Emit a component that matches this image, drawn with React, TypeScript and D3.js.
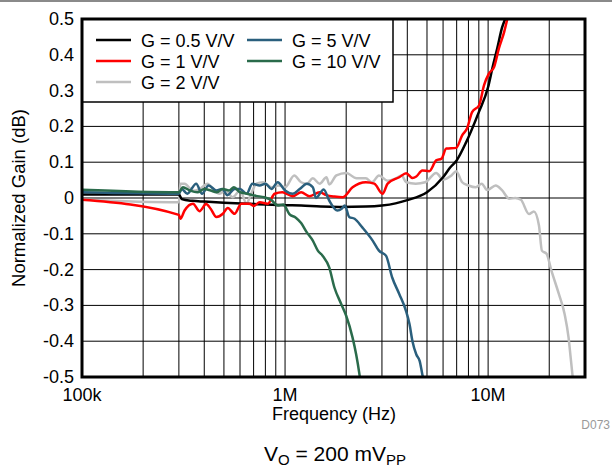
import React, { useRef, useEffect } from "react";
import * as d3 from "d3";

// 주파수 (MHz) / 정규화 이득 (dB)
const g05Freq = [0.1, 0.3, 0.31, 0.35, 0.4, 0.5, 0.65, 0.8, 1.0, 1.2, 1.5, 1.85, 2.5, 3.0, 3.5, 4.0, 5.0, 6.0, 6.5, 7.0, 7.8, 9.0, 10.0, 10.5, 11.1, 11.7, 12.3, 13];
const g05Gain = [0.01, 0.01, -0.003, -0.008, -0.01, -0.013, -0.016, -0.018, -0.02, -0.021, -0.024, -0.025, -0.024, -0.021, -0.015, -0.006, 0.016, 0.058, 0.085, 0.105, 0.156, 0.24, 0.31, 0.363, 0.419, 0.475, 0.51, 0.56];

const g1Freq = [0.1, 0.3, 0.305, 0.32, 0.352, 0.379, 0.409, 0.43, 0.459, 0.494, 0.522, 0.564, 0.609, 0.669, 0.7, 0.751, 0.822, 0.889, 0.97, 1.09, 1.2, 1.32, 1.48, 1.6, 1.75, 1.92, 2.15, 2.5, 2.75, 3.02, 3.2, 3.65, 3.95, 4.24, 4.43, 4.74, 5.13, 5.55, 5.9, 6.22, 6.96, 7.45, 7.88, 8.34, 9.03, 9.55, 10.1, 10.7, 11.3, 12.0, 12.4, 13];
const g1Gain = [-0.005, -0.047, -0.058, -0.035, -0.016, -0.037, -0.017, -0.03, -0.053, -0.044, -0.028, -0.044, -0.016, -0.016, -0.022, -0.012, -0.016, 0.012, 0.016, 0.005, 0.016, 0.005, 0.016, 0.008, 0.004, 0.002, 0.03, 0.044, 0.04, 0.012, 0.04, 0.058, 0.069, 0.056, 0.06, 0.077, 0.075, 0.105, 0.11, 0.138, 0.14, 0.175, 0.195, 0.24, 0.259, 0.315, 0.348, 0.366, 0.418, 0.464, 0.497, 0.55];

const g2Freq = [0.1, 0.3, 0.305, 0.32, 0.352, 0.38, 0.416, 0.44, 0.476, 0.51, 0.552, 0.6, 0.647, 0.67, 0.723, 0.78, 0.858, 0.93, 1.0, 1.11, 1.2, 1.28, 1.37, 1.48, 1.6, 1.65, 1.79, 2.0, 2.25, 2.5, 2.68, 2.9, 3.2, 3.52, 3.75, 3.95, 4.4, 4.9, 5.55, 6.0, 6.6, 6.96, 7.45, 8.0, 8.7, 9.3, 9.9, 10.9, 11.7, 12.7, 13.6, 14.5, 15.9, 16.8, 17.8, 18.4, 19.4, 20.5, 22.3, 23.8, 24.9, 25.5, 26.2];
const g2Gain = [-0.005, -0.012, 0.04, 0.04, 0.02, 0.025, 0.04, 0.025, 0.012, 0.021, 0.002, 0.021, -0.016, 0.002, 0.04, 0.044, 0.03, 0.035, 0.03, 0.063, 0.044, 0.04, 0.055, 0.04, 0.058, 0.038, 0.063, 0.07, 0.055, 0.055, 0.044, 0.063, 0.048, 0.055, 0.063, 0.044, 0.04, 0.044, 0.07, 0.052, 0.063, 0.075, 0.044, 0.035, 0.03, 0.04, 0.022, 0.035, 0.022, -0.002, 0.0, -0.005, -0.045, -0.038, -0.077, -0.147, -0.156, -0.203, -0.268, -0.324, -0.39, -0.446, -0.51];

const g5Freq = [0.1, 0.3, 0.31, 0.33, 0.365, 0.39, 0.42, 0.46, 0.49, 0.52, 0.564, 0.6, 0.647, 0.69, 0.75, 0.8, 0.857, 0.92, 1.0, 1.09, 1.18, 1.28, 1.37, 1.42, 1.55, 1.65, 1.81, 1.9, 1.97, 2.07, 2.2, 2.4, 2.7, 2.9, 3.14, 3.37, 3.65, 3.94, 4.1, 4.24, 4.43, 4.6, 4.74, 4.85];
const g5Gain = [0.016, 0.012, 0.025, 0.012, 0.04, 0.012, 0.035, 0.021, 0.025, 0.008, 0.025, 0.025, 0.012, 0.04, 0.035, 0.04, 0.025, 0.044, 0.021, 0.012, 0.025, 0.04, 0.03, 0.0, 0.024, -0.007, -0.035, -0.03, -0.021, -0.053, -0.058, -0.082, -0.119, -0.147, -0.161, -0.222, -0.268, -0.315, -0.352, -0.4, -0.437, -0.455, -0.492, -0.52];

const g10Freq = [0.1, 0.3, 0.314, 0.34, 0.37, 0.4, 0.43, 0.46, 0.494, 0.53, 0.56, 0.6, 0.65, 0.72, 0.79, 0.857, 0.92, 0.98, 1.05, 1.13, 1.2, 1.28, 1.37, 1.45, 1.53, 1.65, 1.75, 1.89, 2.0, 2.15, 2.24, 2.32, 2.36];
const g10Gain = [0.023, 0.016, 0.03, 0.021, 0.016, 0.025, 0.021, 0.016, 0.025, 0.021, 0.03, 0.016, 0.012, 0.006, 0.002, -0.006, -0.021, -0.018, -0.045, -0.055, -0.07, -0.096, -0.119, -0.147, -0.161, -0.194, -0.25, -0.296, -0.329, -0.39, -0.437, -0.489, -0.52];

const legendLabels = ["G = 0.5 V/V", "G = 1 V/V", "G = 2 V/V", "G = 5 V/V", "G = 10 V/V"];
const seriesColors = ["#000000", "#ff0000", "#bfbfbf", "#2a5f7d", "#2a6b4b"];
const xTickValues = [1e5, 1e6, 1e7];
const xTickLabels = ["100k", "1M", "10M"];
const yTickValues = [-0.5, -0.4, -0.3, -0.2, -0.1, 0, 0.1, 0.2, 0.3, 0.4, 0.5];

const W = 612;
const H = 468;
const FONT = "'Liberation Sans', Arial, sans-serif";

const App = () => {
  const ref = useRef<SVGSVGElement | null>(null);

  useEffect(() => {
    if (!ref.current) return;
    const svg = d3.select(ref.current);
    svg.selectAll("*").remove();

    const left = 82, right = 585, top = 19, bottom = 377;

    const x = d3.scaleLog().domain([1e5, 3e7]).range([left, right]);
    const y = d3.scaleLinear().domain([-0.5, 0.5]).range([bottom, top]);

    // 상단 회색 선
    svg.append("rect").attr("x", 0).attr("y", 0).attr("width", W).attr("height", 2).attr("fill", "#8a8a8a");

    // 그리드
    const minor: number[] = [];
    [1e5, 1e6, 1e7].forEach((d) => {
      for (let k = 1; k <= 9; k++) {
        const v = d * k;
        if (v > 1e5 && v < 3e7) minor.push(v);
      }
    });
    const grid = svg.append("g").attr("stroke", "#000").attr("stroke-width", 1);
    minor.forEach((v) => {
      grid.append("line").attr("x1", x(v)).attr("x2", x(v)).attr("y1", top).attr("y2", bottom);
    });
    yTickValues.forEach((v) => {
      grid.append("line").attr("x1", left).attr("x2", right).attr("y1", y(v)).attr("y2", y(v));
    });

    // 클립
    svg.append("clipPath").attr("id", "plot-clip")
      .append("rect").attr("x", left).attr("y", top).attr("width", right - left).attr("height", bottom - top);

    const line = d3.line<[number, number]>()
      .x((d) => x(d[0] * 1e6))
      .y((d) => y(d[1]))
      .curve(d3.curveMonotoneX);

    const series: [number[], number[], number][] = [
      [g2Freq, g2Gain, 2],
      [g05Freq, g05Gain, 0],
      [g1Freq, g1Gain, 1],
      [g5Freq, g5Gain, 3],
      [g10Freq, g10Gain, 4],
    ];
    const plot = svg.append("g").attr("clip-path", "url(#plot-clip)");
    series.forEach(([f, g, ci]) => {
      plot.append("path")
        .datum(f.map((v, i) => [v, g[i]] as [number, number]))
        .attr("d", line)
        .attr("fill", "none")
        .attr("stroke", seriesColors[ci])
        .attr("stroke-width", 2.5)
        .attr("stroke-linejoin", "round");
    });

    // 범례
    const lg = svg.append("g");
    lg.append("rect").attr("x", left).attr("y", top).attr("width", 393 - left).attr("height", 83)
      .attr("fill", "#fff").attr("stroke", "#000").attr("stroke-width", 1.5);
    const legendPos = [
      [96, 40], [96, 61], [96, 82], [247, 40], [247, 61],
    ];
    legendLabels.forEach((lab, i) => {
      const [lx, ly] = legendPos[i];
      lg.append("line").attr("x1", lx).attr("x2", lx + 35).attr("y1", ly).attr("y2", ly)
        .attr("stroke", seriesColors[i]).attr("stroke-width", 2.5);
      lg.append("text").attr("x", lx + 45).attr("y", ly + 6.5)
        .style("font-family", FONT).style("font-size", "18px").attr("fill", "#000").text(lab);
    });

    // 테두리
    svg.append("rect").attr("x", left).attr("y", top).attr("width", right - left).attr("height", bottom - top)
      .attr("fill", "none").attr("stroke", "#000").attr("stroke-width", 3);

    // 축 라벨 (하이픈 마이너스 사용)
    yTickValues.forEach((v) => {
      svg.append("text").attr("x", 74).attr("y", y(v) + 6).attr("text-anchor", "end")
        .style("font-family", FONT).style("font-size", "18px").text(v === 0 ? "0" : v.toFixed(1));
    });
    xTickValues.forEach((v, i) => {
      svg.append("text").attr("x", x(v)).attr("y", 401).attr("text-anchor", "middle")
        .style("font-family", FONT).style("font-size", "18px").text(xTickLabels[i]);
    });

    svg.append("text").attr("x", 334).attr("y", 420).attr("text-anchor", "middle")
      .style("font-family", FONT).style("font-size", "18px").text("Frequency (Hz)");
    svg.append("text").attr("transform", `translate(25, ${(top + bottom) / 2}) rotate(-90)`)
      .attr("text-anchor", "middle")
      .style("font-family", FONT).style("font-size", "18.5px").text("Normalized Gain (dB)");

    svg.append("text").attr("x", 610).attr("y", 429).attr("text-anchor", "end")
      .style("font-family", FONT).style("font-size", "12px").attr("fill", "#999").text("D073");

    const vo = svg.append("text").attr("x", 335).attr("y", 461).attr("text-anchor", "middle")
      .style("font-family", FONT).style("font-size", "21px");
    vo.append("tspan").text("V");
    vo.append("tspan").attr("dy", 4).style("font-size", "15px").text("O");
    vo.append("tspan").attr("dy", -4).text(" = 200 mV");
    vo.append("tspan").attr("dy", 4).style("font-size", "15px").text("PP");
  }, []);

  return (
    <svg
      ref={ref}
      width={W}
      height={H}
      style={{ position: "absolute", left: 0, top: 0, background: "#fff" }}
    ></svg>
  );
};

export default App;
